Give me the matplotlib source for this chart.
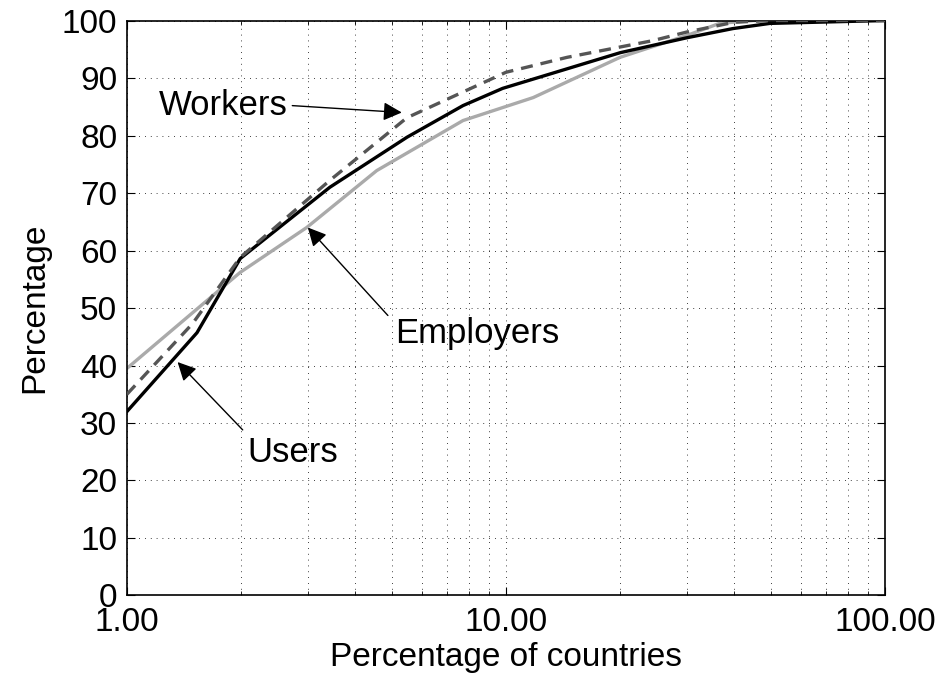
import matplotlib
matplotlib.use("Agg")
import matplotlib.pyplot as plt
from matplotlib.ticker import FixedLocator, FormatStrFormatter, LogLocator, NullFormatter

plt.rcParams['font.family'] = ['Liberation Sans', 'DejaVu Sans']

# cumulative share vs. share of countries (log x)
users_x = [1.0, 1.53, 1.99, 3.43, 5.48, 7.7, 9.8, 20.0, 30.0, 39.7, 49.7, 100.0]
users_y = [32.0, 45.7, 58.6, 71.0, 79.7, 85.2, 88.2, 94.4, 97.0, 98.6, 99.5, 100.0]

workers_x = [1.0, 1.49, 1.99, 3.43, 5.48, 10.0, 14.5, 24.4, 30.0, 40.0, 50.0, 100.0]
workers_y = [35.0, 47.3, 58.8, 72.2, 83.1, 91.0, 93.6, 96.5, 98.0, 99.7, 100.0, 100.0]

employers_x = [1.0, 1.84, 1.99, 2.98, 4.56, 7.7, 11.8, 20.0, 30.0, 36.6, 45.0, 100.0]
employers_y = [39.5, 54.3, 56.2, 64.0, 73.9, 82.6, 86.6, 93.6, 97.4, 99.5, 100.0, 100.0]

xticks = [1, 10, 100]
yticks = list(range(0, 101, 10))

fig = plt.figure(figsize=(9.44, 6.84), dpi=100)
ax = fig.add_axes([0.1345, 0.1294, 0.8030, 0.8406])

ax.plot(users_x, users_y, color='black', lw=2.4, zorder=3)
ax.plot(workers_x, workers_y, color='#555555', lw=2.4, dashes=(3.6, 2.4), zorder=4)
ax.plot(employers_x, employers_y, color='#aaaaaa', lw=2.4, zorder=2)

ax.set_xscale('log')
ax.set_xlim(1, 100)
ax.set_ylim(0, 100)
ax.xaxis.set_major_locator(FixedLocator(xticks))
ax.xaxis.set_major_formatter(FormatStrFormatter('%.2f'))
ax.xaxis.set_minor_locator(LogLocator(base=10, subs=range(2, 10)))
ax.xaxis.set_minor_formatter(NullFormatter())
ax.yaxis.set_major_locator(FixedLocator(yticks))

ax.grid(True, which='both', axis='x', color='black', lw=0.6, dashes=(1, 6))
ax.grid(True, which='major', axis='y', color='black', lw=0.6, dashes=(1, 6))

ax.tick_params(which='both', direction='in', top=True, right=True, labelsize=24)
ax.tick_params(which='major', length=6, width=0.8)
ax.tick_params(which='minor', length=3, width=0.6)
ax.tick_params(axis='x', pad=8)
ax.tick_params(axis='y', pad=7)
for s in ax.spines.values():
    s.set_linewidth(1.2)

ax.set_xlabel('Percentage of countries', fontsize=24, labelpad=3)
ax.set_ylabel('Percentage', fontsize=24, labelpad=8)

arrow = dict(arrowstyle='-|>', color='black', lw=1.0, mutation_scale=28,
             shrinkA=0, shrinkB=0)

ax.text(1.8, 85.3, 'Workers', fontsize=25, ha='center', va='center')
ax.annotate('', xy=(5.31, 84.0), xytext=(2.73, 85.2), arrowprops=arrow)

ax.text(8.4, 45.6, 'Employers', fontsize=25, ha='center', va='center')
ax.annotate('', xy=(3.0, 64.0), xytext=(4.88, 48.7), arrowprops=arrow)

ax.text(2.73, 24.8, 'Users', fontsize=25, ha='center', va='center')
ax.annotate('', xy=(1.36, 40.6), xytext=(2.02, 28.8), arrowprops=arrow)

fig.savefig('out.png', dpi=100)
